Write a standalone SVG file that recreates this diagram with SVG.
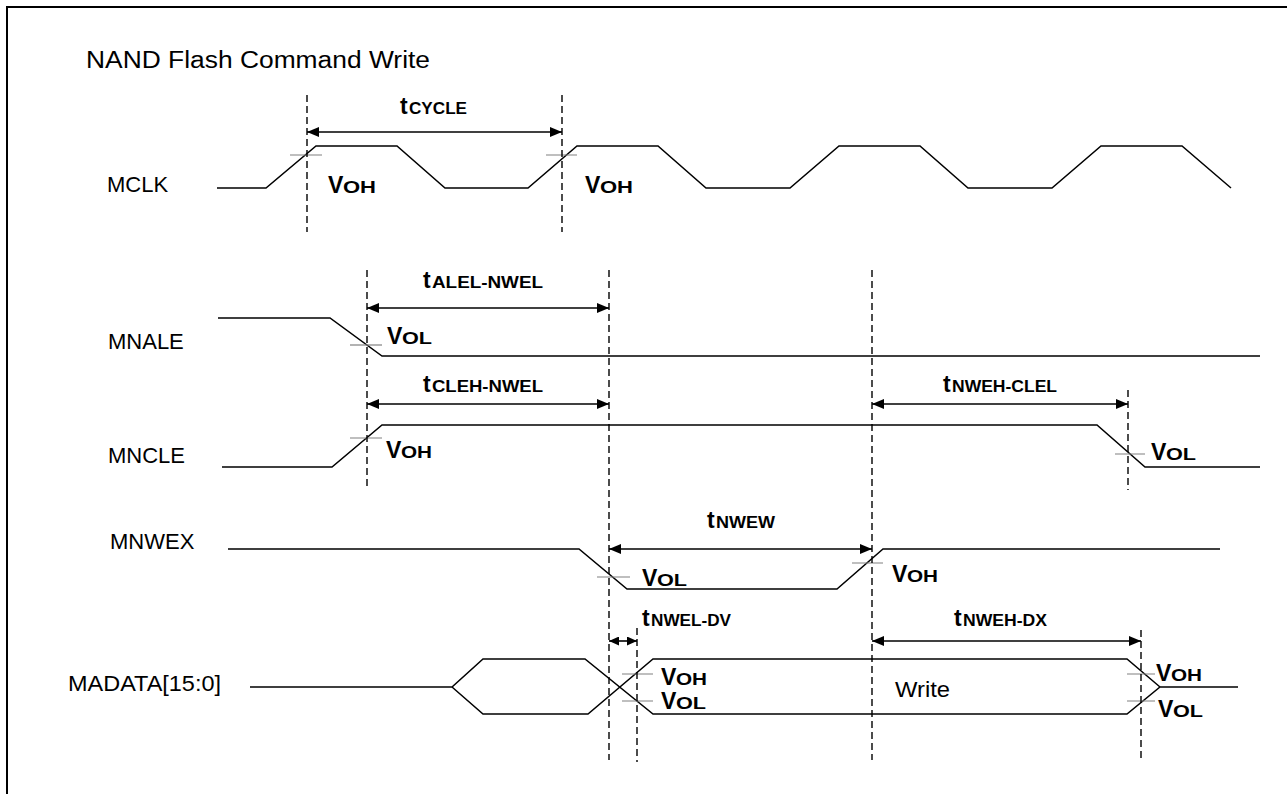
<svg xmlns="http://www.w3.org/2000/svg" width="1287" height="794" viewBox="0 0 1287 794">
<style>
.bg{fill:#fff}
.frame{fill:none;stroke:#000;stroke-width:2}
.wave{fill:none;stroke:#000;stroke-width:1.5;stroke-linejoin:miter}
.tick{fill:none;stroke:#808080;stroke-width:1.2}
.dash{fill:none;stroke:#000;stroke-width:1.4;stroke-dasharray:7 4}
.arr{fill:none;stroke:#000;stroke-width:1.6}
.lbl{font-family:"Liberation Sans",Arial,sans-serif;font-size:22px;fill:#000}
.big{font-family:"Liberation Sans",Arial,sans-serif;font-size:23px;font-weight:bold;fill:#000}
.sub{font-family:"Liberation Sans",Arial,sans-serif;font-size:16px;font-weight:bold;fill:#000}
</style>
<defs>
<marker id="ah" viewBox="0 0 12 10" refX="12" refY="5" markerWidth="12" markerHeight="10" markerUnits="userSpaceOnUse" orient="auto-start-reverse"><path d="M0,0 L12,5 L0,10 z" fill="#000"/></marker>
<marker id="ahs" viewBox="0 0 10 9" refX="10" refY="4.5" markerWidth="10" markerHeight="9" markerUnits="userSpaceOnUse" orient="auto-start-reverse"><path d="M0,0 L10,4.5 L0,9 z" fill="#000"/></marker>
</defs>
<rect class="bg" x="0" y="0" width="1287" height="794"/>
<rect class="frame" x="7" y="7" width="1300" height="800"/>
<text class="lbl" x="86" y="68" style="font-size:23px" textLength="344" lengthAdjust="spacingAndGlyphs">NAND Flash Command Write</text>

<g id="mclk">
<text class="lbl" x="107" y="192">MCLK</text>
<path class="wave" d="M217,188 L266,188 L316,146 L397,146 L445,188 L528,188 L577,146 L658,146 L706,188 L790,188 L839,146 L920,146 L968,188 L1052,188 L1101,146 L1182,146 L1231,188"/>
<path class="tick" d="M290,155 H322 M546,155 H577"/>
<text class="big" x="328" y="193">V</text><text class="sub" x="343" y="193" textLength="33" lengthAdjust="spacingAndGlyphs">OH</text>
<text class="big" x="585" y="193">V</text><text class="sub" x="600" y="193" textLength="33" lengthAdjust="spacingAndGlyphs">OH</text>
</g>

<g id="mnale">
<text class="lbl" x="108" y="349">MNALE</text>
<path class="wave" d="M218,318 L330,318 L382,356 L1260,356"/>
<path class="tick" d="M350,345 H382"/>
<text class="big" x="387" y="344">V</text><text class="sub" x="402" y="344" textLength="30" lengthAdjust="spacingAndGlyphs">OL</text>
</g>

<g id="mncle">
<text class="lbl" x="108" y="463">MNCLE</text>
<path class="wave" d="M222,467 L332,467 L382,425 L1097,425 L1145,467 L1260,467"/>
<path class="tick" d="M350,438 H382 M1115,454 H1145"/>
<text class="big" x="386" y="458">V</text><text class="sub" x="401" y="458" textLength="31" lengthAdjust="spacingAndGlyphs">OH</text>
<text class="big" x="1151" y="460">V</text><text class="sub" x="1166" y="460" textLength="30" lengthAdjust="spacingAndGlyphs">OL</text>
</g>

<g id="mnwex">
<text class="lbl" x="110" y="549">MNWEX</text>
<path class="wave" d="M228,549 L579,549 L627,589 L837,589 L883,549 L1220,549"/>
<path class="tick" d="M597,577 H630 M852,563 H883"/>
<text class="big" x="642" y="586">V</text><text class="sub" x="657" y="586" textLength="30" lengthAdjust="spacingAndGlyphs">OL</text>
<text class="big" x="892" y="582">V</text><text class="sub" x="907" y="582" textLength="31" lengthAdjust="spacingAndGlyphs">OH</text>
</g>

<g id="madata">
<text class="lbl" x="68" y="691" textLength="153" lengthAdjust="spacingAndGlyphs">MADATA[15:0]</text>
<path class="wave" d="M250,687 L452,687 L483,659 L585,659 L653,714 L1127,714 L1160,687 L1238,687"/>
<path class="wave" d="M452,687 L483,714 L588,714 L653,659 L1127,659 L1160,687"/>
<path class="tick" d="M622,674 H653 M622,701 H653 M1127,674 H1155 M1127,701 H1155"/>
<text class="big" x="661" y="685">V</text><text class="sub" x="676" y="685" textLength="31" lengthAdjust="spacingAndGlyphs">OH</text>
<text class="big" x="661" y="709">V</text><text class="sub" x="676" y="709" textLength="30" lengthAdjust="spacingAndGlyphs">OL</text>
<text class="big" x="1156" y="681">V</text><text class="sub" x="1171" y="681" textLength="31" lengthAdjust="spacingAndGlyphs">OH</text>
<text class="big" x="1158" y="717">V</text><text class="sub" x="1173" y="717" textLength="30" lengthAdjust="spacingAndGlyphs">OL</text>
<text class="lbl" x="895" y="697" textLength="55" lengthAdjust="spacingAndGlyphs">Write</text>
</g>

<g id="connectors">
<path class="dash" d="M307,95 V232 M562,95 V232 M367,270 V490 M609,270 V760 M872,270 V760 M1128,390 V490 M637,628 V762 M1141,630 V762"/>
<path class="arr" d="M307,132 H562" marker-start="url(#ah)" marker-end="url(#ah)"/>
<path class="arr" d="M367,308 H609" marker-start="url(#ah)" marker-end="url(#ah)"/>
<path class="arr" d="M367,404 H609" marker-start="url(#ah)" marker-end="url(#ah)"/>
<path class="arr" d="M872,404 H1128" marker-start="url(#ah)" marker-end="url(#ah)"/>
<path class="arr" d="M609,549 H872" marker-start="url(#ah)" marker-end="url(#ah)"/>
<path class="arr" d="M609,641 H637" marker-start="url(#ahs)" marker-end="url(#ahs)"/>
<path class="arr" d="M872,641 H1141" marker-start="url(#ah)" marker-end="url(#ah)"/>
</g>

<g id="timing-labels">
<text class="big" x="400" y="114">t</text><text class="sub" x="409" y="114" textLength="58" lengthAdjust="spacingAndGlyphs">CYCLE</text>
<text class="big" x="423" y="288">t</text><text class="sub" x="432" y="288" textLength="111" lengthAdjust="spacingAndGlyphs">ALEL-NWEL</text>
<text class="big" x="423" y="392">t</text><text class="sub" x="432" y="392" textLength="111" lengthAdjust="spacingAndGlyphs">CLEH-NWEL</text>
<text class="big" x="943" y="392">t</text><text class="sub" x="952" y="392" textLength="105" lengthAdjust="spacingAndGlyphs">NWEH-CLEL</text>
<text class="big" x="707" y="528">t</text><text class="sub" x="716" y="528" textLength="59" lengthAdjust="spacingAndGlyphs">NWEW</text>
<text class="big" x="642" y="626">t</text><text class="sub" x="651" y="626" textLength="80" lengthAdjust="spacingAndGlyphs">NWEL-DV</text>
<text class="big" x="954" y="626">t</text><text class="sub" x="963" y="626" textLength="84" lengthAdjust="spacingAndGlyphs">NWEH-DX</text>
</g>
</svg>
